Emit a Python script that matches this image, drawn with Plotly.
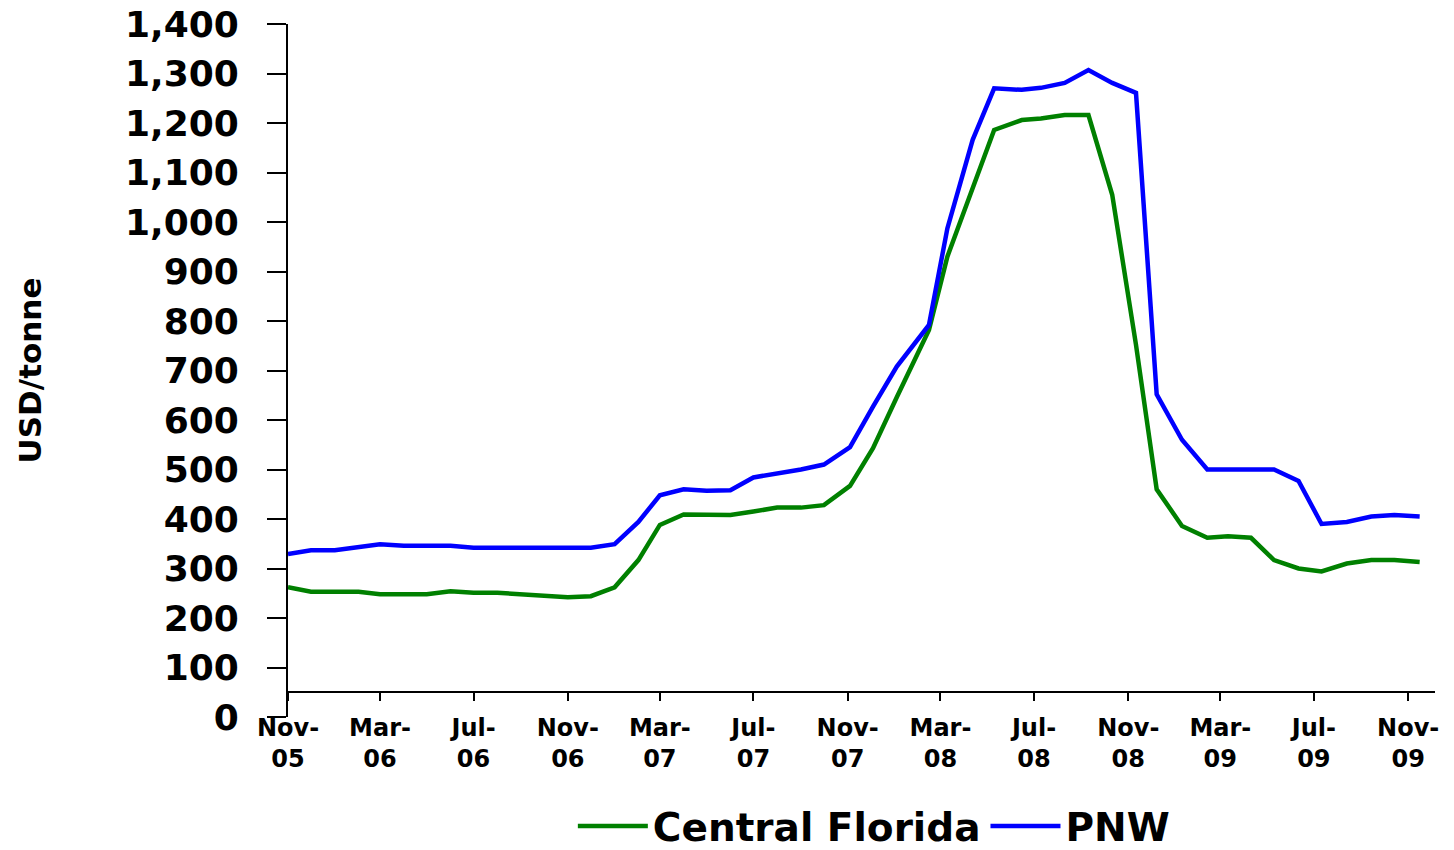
import plotly.graph_objects as go

dates = [
    "2005-11-01", "2005-12-01", "2006-01-01", "2006-02-01", "2006-03-01", "2006-04-01",
    "2006-05-01", "2006-06-01", "2006-07-01", "2006-08-01", "2006-09-01", "2006-10-01",
    "2006-11-01", "2006-12-01", "2007-01-01", "2007-02-01", "2007-03-01", "2007-04-01",
    "2007-05-01", "2007-06-01", "2007-07-01", "2007-08-01", "2007-09-01", "2007-10-01",
    "2007-11-04", "2007-12-04", "2008-01-04", "2008-02-15", "2008-03-10", "2008-04-12",
    "2008-05-10", "2008-06-15", "2008-07-10", "2008-08-10", "2008-09-10", "2008-10-11",
    "2008-11-11", "2008-12-08", "2009-01-10", "2009-02-12", "2009-03-11", "2009-04-10",
    "2009-05-10", "2009-06-11", "2009-07-11", "2009-08-13", "2009-09-14", "2009-10-14",
    "2009-11-16",
]

central_florida = [
    262, 253, 253, 253, 248, 248, 248, 254, 251, 251, 248, 245,
    242, 244, 262, 317, 388, 409, 408, 408, 415, 423, 423, 428,
    467, 543, 646, 782, 930, 1072, 1186, 1206, 1209, 1216, 1216, 1055,
    752, 460, 386, 362, 365, 362, 317, 300, 294, 310, 317, 317,
    313,
]

pnw = [
    329, 337, 337, 343, 349, 346, 346, 346, 342, 342, 342, 342,
    342, 342, 349, 394, 448, 460, 457, 458, 484, 491, 500, 510,
    545, 627, 708, 792, 987, 1166, 1270, 1267, 1271, 1281, 1307, 1281,
    1261, 652, 560, 500, 500, 500, 500, 477, 390, 394, 405, 408,
    405,
]

tick_dates = [
    "2005-11-01", "2006-03-01", "2006-07-01", "2006-11-01", "2007-03-01", "2007-07-01",
    "2007-11-01", "2008-03-01", "2008-07-01", "2008-11-01", "2009-03-01", "2009-07-01",
    "2009-11-01",
]
tick_labels = [
    "Nov-<br>05", "Mar-<br>06", "Jul-<br>06", "Nov-<br>06", "Mar-<br>07", "Jul-<br>07",
    "Nov-<br>07", "Mar-<br>08", "Jul-<br>08", "Nov-<br>08", "Mar-<br>09", "Jul-<br>09",
    "Nov-<br>09",
]

FONT = "DejaVu Sans"

fig = go.Figure()
fig.add_trace(go.Scatter(x=dates, y=central_florida, mode="lines", name="Central Florida",
                         line=dict(color="#008000", width=4.5)))
fig.add_trace(go.Scatter(x=dates, y=pnw, mode="lines", name="PNW",
                         line=dict(color="#0000FF", width=4.5)))

fig.update_layout(
    width=1454, height=850,
    margin=dict(l=288, r=19, t=24, b=133, autoexpand=False),
    paper_bgcolor="white", plot_bgcolor="white",
    font=dict(family=FONT, color="black"),
    showlegend=True,
    legend=dict(orientation="h", xref="container", yref="container",
                x=0.601, xanchor="center", y=0.028, yanchor="middle",
                font=dict(family=FONT, size=39, weight="bold", color="black"),
                itemwidth=70, bgcolor="rgba(0,0,0,0)"),
    xaxis=dict(
        type="date",
        range=["2005-11-01", "2009-12-06"],
        tickmode="array", tickvals=tick_dates, ticktext=tick_labels,
        anchor="free", position=0.036,
        showline=True, linecolor="black", linewidth=2,
        ticks="outside", ticklen=8, tickwidth=2, tickcolor="black",
        showgrid=False, zeroline=False, automargin=False,
        tickfont=dict(family=FONT, size=24, weight="bold", color="black"),
        ticklabelstandoff=6, ticklabeloverflow="allow",
    ),
    yaxis=dict(
        range=[0, 1400], dtick=100, tick0=0, tickformat=",",
        showline=True, linecolor="black", linewidth=2,
        ticks="outside", ticklen=19, tickwidth=2, tickcolor="black",
        showgrid=False, zeroline=False, automargin=False,
        tickfont=dict(family=FONT, size=36, weight="bold", color="black"),
        ticklabelstandoff=21, ticklabeloverflow="allow",
        title=dict(text="USD/tonne", standoff=74,
                   font=dict(family=FONT, size=31, weight="bold", color="black")),
    ),
)

fig.write_html("out.html", config={"displayModeBar": False},
               post_script="document.body.style.margin='0';")
